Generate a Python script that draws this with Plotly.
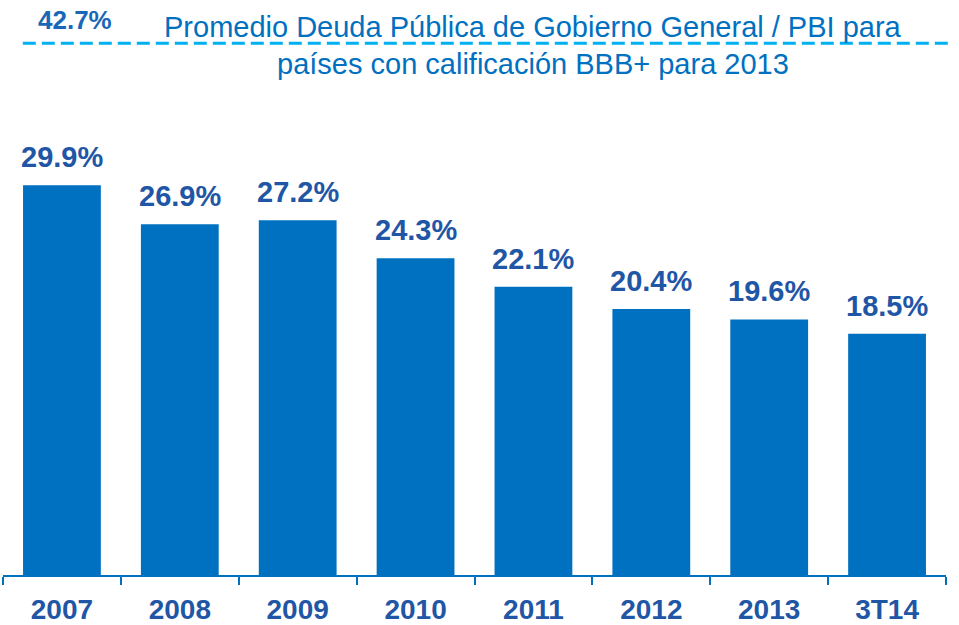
import plotly.graph_objects as go

# Deuda publica / PBI por periodo
periodos = ["2007", "2008", "2009", "2010", "2011", "2012", "2013", "3T14"]
deuda_pbi = [29.9, 26.9, 27.2, 24.3, 22.1, 20.4, 19.6, 18.5]
promedio_bbb = 42.7
titulo_1 = "Promedio Deuda Pública de Gobierno General / PBI para"
titulo_2 = "países con calificación BBB+ para 2013"

azul_barra = "#0070C0"
azul_oscuro = "#1F56A5"
celeste = "#00B0F0"
fuente = "Arial, Liberation Sans, sans-serif"

fig = go.Figure()
fig.add_trace(go.Bar(x=periodos, y=deuda_pbi, marker=dict(color=azul_barra, line=dict(width=0)),
                     hoverinfo="x+y"))

# valores sobre cada barra (x por indice de categoria)
for i, v in enumerate(deuda_pbi):
    fig.add_annotation(x=i, y=v, text=f"<b>{v:.1f}%</b>", showarrow=False,
                       yanchor="bottom", yshift=10,
                       font=dict(family=fuente, size=29, color=azul_oscuro))

# linea de referencia (promedio BBB+)
fig.add_shape(type="line", xref="paper", yref="paper", x0=0.021, x1=1.004, y0=0.925, y1=0.925,
              line=dict(color=celeste, width=3, dash="13px,6px"))
fig.add_annotation(xref="paper", yref="paper", x=0.0764, y=0.965, xanchor="center", yanchor="middle",
                   text=f"<b>{promedio_bbb}%</b>", showarrow=False,
                   font=dict(family=fuente, size=26, color="#1868B7"))
fig.add_annotation(xref="paper", yref="paper", x=0.562, y=0.953, xanchor="center", yanchor="middle",
                   text=titulo_1, showarrow=False, font=dict(family=fuente, size=29, color=azul_barra))
fig.add_annotation(xref="paper", yref="paper", x=0.562, y=0.888, xanchor="center", yanchor="middle",
                   text=titulo_2, showarrow=False, font=dict(family=fuente, size=29, color=azul_barra))

fig.update_layout(
    width=959, height=625,
    margin=dict(l=3, r=13, t=0, b=50),
    plot_bgcolor="white", paper_bgcolor="white",
    bargap=0.34,
    showlegend=False,
    font=dict(family=fuente),
)
fig.update_xaxes(type="category", showline=True, linecolor=azul_barra, linewidth=1.5,
                 ticks="outside", tickson="boundaries", ticklen=8, tickcolor=azul_barra, tickwidth=1.5,
                 tickfont=dict(family=fuente, size=28, color=azul_oscuro, weight="bold"),
                 ticklabelstandoff=9, tickangle=0, automargin=False, showgrid=False)
fig.update_yaxes(range=[0, 44.1], visible=False, showgrid=False, zeroline=False)

# sin margen del body para que la figura ocupe toda la ventana
fig.write_html("out.html", config={"displayModeBar": False},
               post_script="document.body.style.margin='0px';")
